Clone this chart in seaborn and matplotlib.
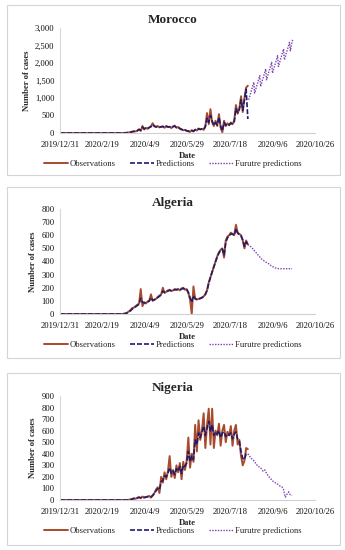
import numpy as np
import pandas as pd
import matplotlib
matplotlib.use("Agg")
import matplotlib.pyplot as plt
import matplotlib.ticker as mticker
from matplotlib.patches import Rectangle
from matplotlib.lines import Line2D
import seaborn as sns

# ---------------- data ----------------
countries = ["Morocco", "Algeria", "Nigeria"]
series_names = ["Observations", "Predictions", "Furutre predictions"]
x_tick_labels = ["2019/12/31", "2020/2/19", "2020/4/9", "2020/5/29",
                 "2020/7/18", "2020/9/6", "2020/10/26"]
x_ticks = ["2019-12-31", "2020-02-19", "2020-04-09", "2020-05-29",
           "2020-07-18", "2020-09-06", "2020-10-26"]
y_max = [3000, 800, 900]
y_step = [500, 100, 100]

first_day = "2019-12-31"
sample_start = "2020-03-01"   # observations / predictions sampled every 2 days from here

morocco_obs = [0, 0, 0, 0, 0, 0, 0, 1,
               5, 10, 15, 25, 40, 50, 45,
               70, 110, 60, 200, 100,
               150, 120, 160, 190, 280, 190, 170, 200, 160, 180,
               190, 150, 200, 170, 180, 140, 190, 210, 150, 170,
               120, 100, 80, 90, 60, 50,
               30, 80, 40, 100, 70, 130, 100,
               120, 90, 200, 570, 250, 680, 300, 200,
               350, 200, 540, 150, 20, 350, 200, 280, 220,
               300, 250, 350, 800, 550, 700, 1050, 600, 1000, 1300, 1350]
morocco_pred = [0, 0, 0, 0, 0, 0, 0, 0,
                3, 8, 14, 22, 35, 45, 50,
                65, 95, 80, 170, 120,
                140, 130, 155, 180, 240, 200, 175, 190, 170, 175,
                185, 160, 190, 175, 175, 150, 180, 195, 160, 165,
                130, 105, 85, 85, 65, 55,
                40, 70, 55, 90, 80, 120, 105,
                115, 100, 180, 420, 300, 500, 350, 220,
                300, 230, 450, 200, 60, 300, 220, 260, 230,
                280, 260, 330, 700, 580, 680, 950, 650, 950, 1250, 400]
morocco_future_start = "2020-08-09"   # daily
morocco_future = [950, 1030, 1120, 1200, 1280, 1370, 1450,
                  1140, 1220, 1310, 1390, 1470, 1560, 1640,
                  1330, 1410, 1500, 1580, 1660, 1750, 1830,
                  1520, 1600, 1690, 1770, 1850, 1940, 2020,
                  1710, 1790, 1880, 1960, 2040, 2130, 2210,
                  1900, 1980, 2070, 2150, 2230, 2320, 2400,
                  2090, 2170, 2260, 2340, 2420, 2510, 2590,
                  2350, 2480, 2600, 2700]

algeria_obs = [0, 0, 0, 0, 0, 0,
               0, 2, 5, 10, 20, 30, 45, 50, 60, 70, 80,
               190, 60, 90, 80, 95, 100, 150, 100, 110, 115,
               130, 140, 150, 200, 160, 170, 180, 185, 175, 180,
               190, 185, 190, 180, 195, 200, 185, 190,
               160, 110, 0, 210, 115, 110, 115, 120, 125, 135,
               150, 180, 240, 280, 320, 360, 400, 440, 470, 490,
               500, 430, 560, 590, 600, 620, 610, 600, 680, 620,
               610, 600, 560, 500, 560, 530]
algeria_pred = [0, 0, 0, 0, 0, 0,
                0, 1, 4, 8, 15, 25, 38, 48, 55, 65, 75,
                120, 90, 85, 85, 92, 98, 125, 105, 108, 115,
                125, 135, 145, 175, 165, 168, 175, 180, 178, 180,
                185, 185, 188, 183, 190, 195, 188, 188,
                165, 125, 90, 140, 118, 112, 114, 118, 124, 134,
                150, 180, 235, 280, 320, 360, 400, 435, 465, 485,
                495, 450, 545, 580, 595, 610, 608, 600, 650, 615,
                605, 595, 565, 515, 550, 530]
algeria_future_start = "2020-08-08"   # every 4 days
algeria_future = [530, 510, 480, 450, 420, 400, 385, 365, 352, 345,
                  345, 345, 345, 345]

nigeria_obs = [0, 0, 0, 0, 0, 0, 0, 0, 0, 0,
               2, 5, 10, 15, 10, 20, 25, 15, 30, 20,
               25, 30, 35, 20, 40, 60, 90, 110, 60, 200,
               150, 240, 180, 250, 380, 200, 260, 190, 300, 240,
               320, 180, 330, 260, 340, 540, 280, 400, 330, 650,
               420, 690, 520, 600, 750, 450, 650, 790, 480, 790,
               450, 600, 560, 660, 470, 600, 650, 500, 590, 560,
               640, 470, 600, 650, 480, 520, 380, 300, 340, 450, 440]
nigeria_pred = [0, 0, 0, 0, 0, 0, 0, 0, 0, 0,
                1, 3, 8, 12, 12, 17, 22, 20, 25, 22,
                25, 28, 30, 28, 38, 55, 80, 100, 90, 160,
                170, 210, 200, 230, 280, 230, 250, 220, 270, 250,
                290, 230, 300, 290, 320, 420, 330, 380, 350, 520,
                480, 580, 540, 590, 640, 560, 620, 680, 590, 650,
                560, 590, 570, 600, 540, 580, 590, 550, 570, 560,
                580, 530, 570, 590, 530, 510, 420, 360, 350, 400, 400]
nigeria_future_start = "2020-08-08"   # every 2 days
nigeria_future = [400, 380, 360, 350, 330, 310, 290, 285, 270, 250,
                  260, 230, 210, 190, 175, 160, 150, 145, 130, 120,
                  115, 90, 25, 50, 70, 45, 40]

obs_data = [morocco_obs, algeria_obs, nigeria_obs]
pred_data = [morocco_pred, algeria_pred, nigeria_pred]
future_data = [(morocco_future_start, 1, morocco_future),
               (algeria_future_start, 4, algeria_future),
               (nigeria_future_start, 2, nigeria_future)]

# ---------------- style ----------------
sns.set_theme(style="white")
plt.rcParams["font.family"] = ["Liberation Serif", "DejaVu Serif"]

obs_color = "#A84A2C"
pred_color = "#1C1C6E"
fut_color = "#7E3FB0"

fig = plt.figure(figsize=(3.45, 5.50), dpi=100)

# panel geometry in figure pixels (top-origin)
panel_frames = [(5, 175), (187, 358), (373, 545)]
axes_y = [(28, 133), (209, 314), (396, 500)]
legend_y = [164, 345, 531]
title_y = [20, 203, 388]
W, H = 345.0, 550.0
ax_left, ax_right = 60, 315


def build_series(values, start, step):
    dates = pd.date_range(start, periods=len(values), freq=f"{step}D")
    return pd.DataFrame({"date": dates, "cases": values})


for i, country in enumerate(countries):
    # frame
    f_top, f_bot = panel_frames[i]
    fig.add_artist(Rectangle((7 / W, 1 - f_bot / H), 333 / W, (f_bot - f_top) / H,
                             transform=fig.transFigure, fill=False,
                             edgecolor="#D4D4D4", lw=0.8))
    a_top, a_bot = axes_y[i]
    ax = fig.add_axes([ax_left / W, 1 - a_bot / H, (ax_right - ax_left) / W,
                       (a_bot - a_top) / H])

    obs = pd.concat([pd.DataFrame({"date": [pd.Timestamp(first_day)], "cases": [0]}),
                     build_series(obs_data[i], sample_start, 2)])
    pred = pd.concat([pd.DataFrame({"date": [pd.Timestamp(first_day)], "cases": [0]}),
                      build_series(pred_data[i], sample_start, 2)])
    fs, fstep, fvals = future_data[i]
    fut = build_series(fvals, fs, fstep)

    sns.lineplot(data=obs, x="date", y="cases", ax=ax, color=obs_color, lw=1.4)
    sns.lineplot(data=pred, x="date", y="cases", ax=ax, color=pred_color, lw=1.2,
                 linestyle=(0, (3, 1.2)))
    sns.lineplot(data=fut, x="date", y="cases", ax=ax, color=fut_color, lw=1.0,
                 linestyle=(0, (1, 1)))

    ax.set_xlim(pd.Timestamp(x_ticks[0]), pd.Timestamp(x_ticks[-1]))
    ax.set_ylim(0, y_max[i])
    ax.set_xticks([pd.Timestamp(t) for t in x_ticks])
    ax.set_xticklabels(x_tick_labels)
    ax.set_yticks(np.arange(0, y_max[i] + 1, y_step[i]))
    ax.yaxis.set_major_formatter(mticker.FuncFormatter(lambda v, p: f"{int(v):,}"))
    ax.tick_params(axis="both", length=0, labelsize=6.2, colors="#111111")
    ax.tick_params(axis="x", pad=6)
    ax.tick_params(axis="y", pad=4)
    for side in ["top", "right"]:
        ax.spines[side].set_visible(False)
    ax.spines["left"].set_color("#D8D8D8")
    ax.spines["bottom"].set_color("#D0D0D0")
    ax.spines["left"].set_linewidth(0.8)
    ax.spines["bottom"].set_linewidth(0.8)
    ax.set_xlabel("Date", fontsize=6.2, fontweight="bold", labelpad=2)
    ax.set_ylabel("Number of cases", fontsize=6.2, fontweight="bold", labelpad=3)
    ax.set_facecolor("none")

    fig.text(173 / W, 1 - title_y[i] / H, country, ha="center", va="center",
             fontsize=9.5, fontweight="bold")

    handles = [Line2D([], [], color=obs_color, lw=1.4),
               Line2D([], [], color=pred_color, lw=1.2, linestyle=(0, (3, 1.2))),
               Line2D([], [], color=fut_color, lw=1.0, linestyle=(0, (1, 1)))]
    fig.legend(handles, series_names, loc="center", ncol=3,
               bbox_to_anchor=(0.5, 1 - legend_y[i] / H), frameon=False,
               fontsize=6.2, handlelength=2.8, handletextpad=0.15, columnspacing=1.7,
               borderaxespad=0, borderpad=0)

fig.savefig("out.png", dpi=100, facecolor="white")
